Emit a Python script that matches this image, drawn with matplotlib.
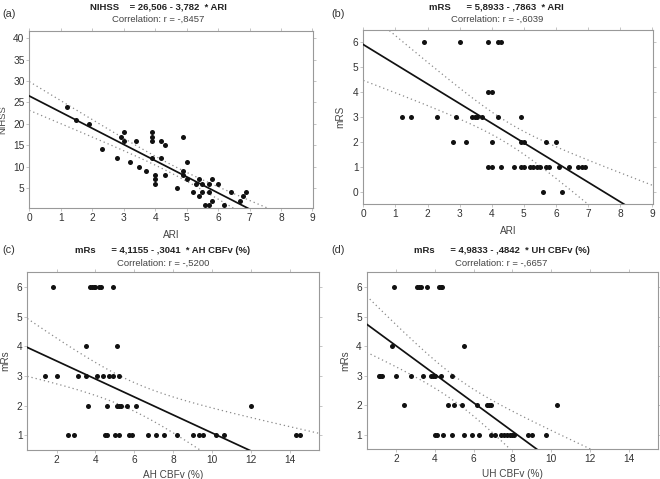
import numpy as np
import matplotlib
matplotlib.use("Agg")
import matplotlib.pyplot as plt

plt.rcParams['font.family'] = ['Liberation Sans', 'DejaVu Sans']

# Data
# (a) ARI vs NIHSS
ari_a = [1.2, 1.5, 1.9, 2.3, 2.8, 2.9, 3.0, 3.0, 3.2, 3.4, 3.5, 3.7, 3.9, 3.9, 3.9, 3.9,
         4.0, 4.0, 4.0, 4.2, 4.2, 4.3, 4.3, 4.7, 4.9, 4.9, 4.9, 5.0, 5.0, 5.2, 5.3, 5.4,
         5.4, 5.5, 5.5, 5.6, 5.7, 5.7, 5.7, 5.8, 5.8, 6.0, 6.2, 6.4, 6.7, 6.8, 6.9]
nihss = [24, 21, 20, 14, 12, 17, 18, 16, 11, 16, 10, 9, 18, 17, 16, 12,
         8, 7, 6, 16, 12, 15, 8, 5, 17, 9, 8, 11, 7, 4, 6, 7,
         3, 6, 4, 1, 1, 6, 4, 7, 2, 6, 1, 4, 2, 3, 4]

# (b) ARI vs mRS
ari_b = [1.9, 3.0, 3.9, 4.2, 4.3,
         3.9, 4.0,
         1.2, 1.5, 2.3, 2.9, 3.4, 3.47, 3.53, 3.7, 4.2, 4.9,
         2.8, 3.2, 4.0, 4.9, 5.0, 5.7, 6.0,
         3.9, 4.0, 4.3, 4.7, 4.9, 5.0, 5.2, 5.3, 5.4, 5.5, 5.7, 5.8, 6.1, 6.4, 6.7, 6.8, 6.9,
         5.6, 6.2]
mrs_b = [6, 6, 6, 6, 6,
         4, 4,
         3, 3, 3, 3, 3, 3, 3, 3, 3, 3,
         2, 2, 2, 2, 2, 2, 2,
         1, 1, 1, 1, 1, 1, 1, 1, 1, 1, 1, 1, 1, 1, 1, 1, 1,
         0, 0]

# (c) AH CBFv (%) vs mRs
ah = [1.8, 3.7, 3.8, 3.9, 4.0, 4.2, 4.3, 4.9,
      3.5, 5.1,
      1.4, 2.0, 3.1, 3.5, 4.1, 4.4, 4.7, 4.9, 5.2,
      3.6, 4.6, 5.1, 5.2, 5.3, 5.6, 6.1, 12.0,
      2.6, 2.9, 4.5, 4.6, 5.0, 5.2, 5.7, 5.9, 6.7, 7.1, 7.5, 8.2, 9.0, 9.3, 9.5, 10.2,
      10.6, 14.3, 14.5]
mrs_c = [6, 6, 6, 6, 6, 6, 6, 6,
         4, 4,
         3, 3, 3, 3, 3, 3, 3, 3, 3,
         2, 2, 2, 2, 2, 2, 2, 2,
         1, 1, 1, 1, 1, 1, 1, 1, 1, 1, 1, 1, 1, 1, 1, 1,
         1, 1, 1]

# (d) UH CBFv (%) vs mRs
uh = [1.9, 3.1, 3.2, 3.3, 3.6, 4.2, 4.3, 4.35,
      1.8, 5.5,
      1.15, 1.2, 1.3, 2.0, 2.8, 3.4, 3.8, 3.9, 4.0, 4.3, 4.9,
      2.4, 4.7, 5.0, 5.4, 6.2, 6.7, 6.8, 6.9, 10.3,
      4.0, 4.1, 4.4, 4.9, 5.5, 5.9, 6.3, 6.9, 7.1, 7.4, 7.55, 7.7, 7.85, 8.0, 8.1,
      8.8, 9.0, 9.7]
mrs_d = [6, 6, 6, 6, 6, 6, 6, 6,
         4, 4,
         3, 3, 3, 3, 3, 3, 3, 3, 3, 3, 3,
         2, 2, 2, 2, 2, 2, 2, 2, 2,
         1, 1, 1, 1, 1, 1, 1, 1, 1, 1, 1, 1, 1, 1, 1,
         1, 1, 1]

# regression coefficients (from the panel titles)
fits = [(26.506, -3.782), (5.8933, -0.7863), (4.1155, -0.3041), (4.9833, -0.4842)]

titles = ["NIHSS    = 26,506 - 3,782  * ARI",
          "mRS      = 5,8933 - ,7863  * ARI",
          "mRs      = 4,1155 - ,3041  * AH CBFv (%)",
          "mRs      = 4,9833 - ,4842  * UH CBFv (%)"]
corrs = ["Correlation: r = -,8457", "Correlation: r = -,6039",
         "Correlation: r = -,5200", "Correlation: r = -,6657"]
panel_tags = ["(a)", "(b)", "(c)", "(d)"]
xlabels = ["ARI", "ARI", "AH CBFv (%)", "UH CBFv (%)"]
ylabels = ["NIHSS", "mRS", "mRs", "mRs"]

fig = plt.figure(figsize=(6.6, 4.79), dpi=100)

rects = [[0.0444, 0.565, 0.430, 0.371],
         [0.5505, 0.5735, 0.4385, 0.364],
         [0.0414, 0.0605, 0.4424, 0.371],
         [0.5556, 0.062, 0.4418, 0.3695]]
xlims = [(0, 9.02), (0, 9.02), (0.5, 15.5), (0.5, 15.5)]
ylims = [(0.2, 41.8), (-0.5, 6.48), (0.5, 6.5), (0.5, 6.5)]
xticks = [range(0, 10), range(0, 10), range(2, 16, 2), range(2, 16, 2)]
yticks = [range(5, 45, 5), range(0, 7), range(1, 7), range(1, 7)]
title_x = [0.2394, 0.7526, 0.247, 0.760]
title_y = [0.985, 0.985, 0.4766, 0.4766]
tag_pos = [(0.003, 0.971), (0.5025, 0.971), (0.003, 0.478), (0.5025, 0.478)]
ylab_x = [-0.076, -0.063, -0.057, -0.057]
xlab_y = [-0.122, -0.125, -0.113, -0.113]

data = [(ari_a, nihss), (ari_b, mrs_b), (ah, mrs_c), (uh, mrs_d)]

for i in range(4):
    ax = fig.add_axes(rects[i])
    x = np.array(data[i][0], dtype=float)
    y = np.array(data[i][1], dtype=float)
    b0, b1 = fits[i]

    # regression line and 95% confidence band
    xs = np.linspace(xlims[i][0], xlims[i][1], 200)
    ys = b0 + b1 * xs
    n = len(x)
    res = y - (b0 + b1 * x)
    s = np.sqrt(np.sum(res ** 2) / (n - 2))
    sxx = np.sum((x - x.mean()) ** 2)
    half = 2.01 * s * np.sqrt(1.0 / n + (xs - x.mean()) ** 2 / sxx)
    ax.plot(xs, ys, color='#111111', lw=1.25, zorder=3)
    ax.plot(xs, ys + half, color='#8a8a8a', lw=0.9, ls=(0, (1, 2.4)), zorder=2)
    ax.plot(xs, ys - half, color='#8a8a8a', lw=0.9, ls=(0, (1, 2.4)), zorder=2)

    ax.scatter(x, y, s=13, color='#111111', zorder=4, linewidths=0)

    ax.set_xlim(*xlims[i])
    ax.set_ylim(*ylims[i])
    ax.set_xticks(list(xticks[i]))
    ax.set_yticks(list(yticks[i]))
    ax.tick_params(labelsize=7.3, colors='#bbbbbb', labelcolor='#333333',
                   length=2, width=0.6, direction='out', pad=1.5,
                   top=True, right=True)
    for sp in ax.spines.values():
        sp.set_color('#999999')
        sp.set_linewidth(0.8)
    ax.set_xlabel(xlabels[i], fontsize=7.2, color='#444444')
    ax.set_ylabel(ylabels[i], fontsize=7.2 if i else 6.8, color='#444444')
    ax.xaxis.set_label_coords(0.5, xlab_y[i])
    ax.yaxis.set_label_coords(ylab_x[i], 0.5)

    fig.text(title_x[i], title_y[i], titles[i], ha='center', va='center',
             fontsize=6.8, fontweight='bold', color='#222222')
    fig.text(title_x[i], title_y[i] - 0.026, corrs[i], ha='center', va='center',
             fontsize=6.8, color='#444444')
    fig.text(tag_pos[i][0], tag_pos[i][1], panel_tags[i], ha='left', va='center',
             fontsize=7.8, color='#333333')

fig.savefig("out.png", dpi=100)
